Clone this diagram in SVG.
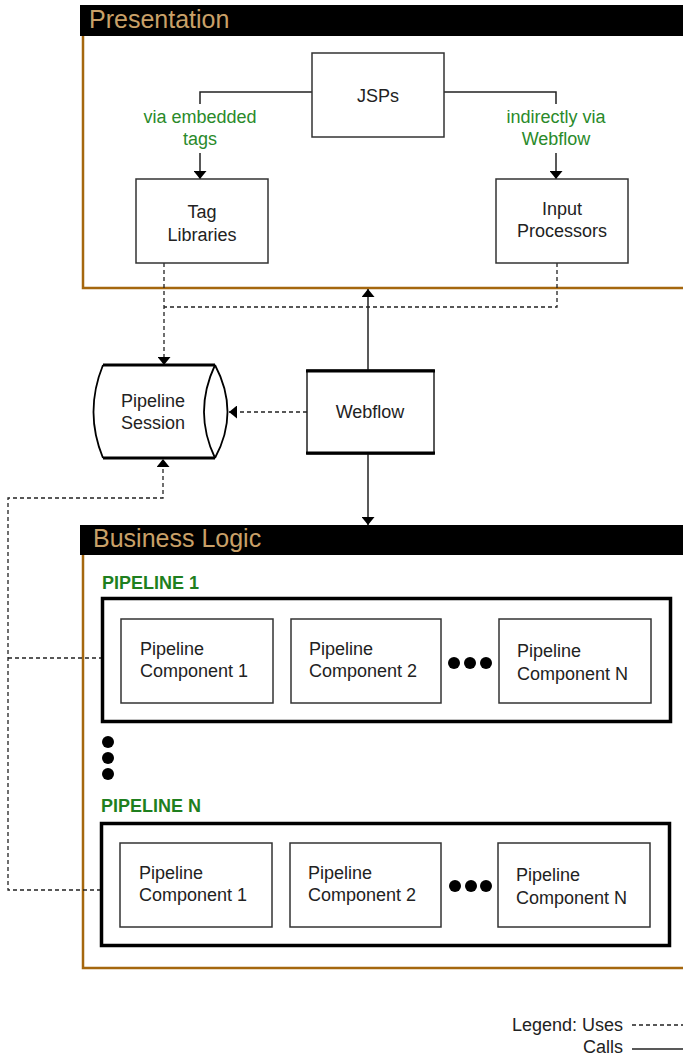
<svg xmlns="http://www.w3.org/2000/svg" width="683" height="1058" viewBox="0 0 683 1058">
<style>
text{font-family:"Liberation Sans",Arial,sans-serif;font-size:18px;fill:#222}
.hdr{font-size:25px;fill:#c9a068}
.lbl{fill:#2a8a2a}
.pl{font-weight:bold;fill:#1f7f1f}
.box{fill:#fff;stroke:#333;stroke-width:1.5}
.obox{fill:#fff;stroke:#000;stroke-width:3.5}
.solid{fill:none;stroke:#222;stroke-width:1.5}
.dash{fill:none;stroke:#222;stroke-width:1.3;stroke-dasharray:4 3}
.brd{fill:none;stroke:#a5670f;stroke-width:2.5}
.c{text-anchor:middle}
.e{text-anchor:end}
</style>
<defs>
<marker id="ah" viewBox="0 0 8 13" refX="8" refY="6.5" markerWidth="8" markerHeight="13" orient="auto" markerUnits="userSpaceOnUse"><path d="M0,0 L8,6.5 L0,13 z" fill="#000"/></marker>
</defs>
<rect width="683" height="1058" fill="#fff"/>

<g id="presentation">
<rect x="80" y="5" width="603" height="31" fill="#000"/>
<path class="brd" d="M83,36 V288 H683"/>
<text class="hdr" x="89" y="28">Presentation</text>
</g>

<g id="business">
<rect x="80" y="525" width="603" height="30" fill="#000"/>
<path class="brd" d="M83,555 V968 H683"/>
<text class="hdr" x="93" y="547">Business Logic</text>
</g>

<g id="connectors">
<path class="solid" d="M312,92 H200 V104"/>
<path class="solid" d="M200,153 V179" marker-end="url(#ah)"/>
<path class="solid" d="M444,92 H556 V104"/>
<path class="solid" d="M556,153 V179" marker-end="url(#ah)"/>
<path class="dash" d="M164,263 V365" marker-end="url(#ah)"/>
<path class="dash" d="M557,263 V307 H164"/>
<path class="solid" d="M368,370 V289" marker-end="url(#ah)"/>
<path class="solid" d="M368,454 V525" marker-end="url(#ah)"/>
<path class="dash" d="M307,412 H229" marker-end="url(#ah)"/>
<path class="dash" d="M101,890 H8 V498 H163 V459" marker-end="url(#ah)"/>
<path class="dash" d="M8,658 H101"/>
<path class="dash" d="M632,1025 H683"/>
<path class="solid" d="M632,1049 H683"/>
</g>

<g id="labels">
<text class="lbl c" x="200" y="123">via embedded</text>
<text class="lbl c" x="200" y="145">tags</text>
<text class="lbl c" x="556" y="123">indirectly via</text>
<text class="lbl c" x="556" y="145">Webflow</text>
</g>

<g id="jsps">
<rect class="box" x="312" y="53" width="132" height="84"/>
<text class="c" x="378" y="102">JSPs</text>
</g>

<g id="tag-libraries">
<rect class="box" x="136" y="179" width="132" height="84"/>
<text class="c" x="202" y="218">Tag</text>
<text class="c" x="202" y="241">Libraries</text>
</g>

<g id="input-processors">
<rect class="box" x="496" y="179" width="132" height="84"/>
<text class="c" x="562" y="215">Input</text>
<text class="c" x="562" y="237">Processors</text>
</g>

<g id="pipeline-session">
<path d="M103,365 Q84,412 103,458" fill="none" stroke="#000" stroke-width="1.8"/>
<path d="M215,365 Q193,412 215,458" fill="none" stroke="#000" stroke-width="1.8"/>
<path d="M215,365 Q240,412 215,458" fill="none" stroke="#000" stroke-width="1.8"/>
<path d="M103,365 H215 M103,458 H215" fill="none" stroke="#000" stroke-width="3"/>
<text class="c" x="153" y="407">Pipeline</text>
<text class="c" x="153" y="429">Session</text>
</g>

<g id="webflow">
<rect x="307" y="370" width="127" height="84" fill="#fff" stroke="#222" stroke-width="1.5"/>
<path d="M306,371 H435 M306,453 H435" stroke="#000" stroke-width="3"/>
<text class="c" x="370" y="418">Webflow</text>
</g>

<g id="pipeline-1">
<text class="pl" x="102" y="589">PIPELINE 1</text>
<rect class="obox" x="102.5" y="598.5" width="568" height="123"/>
<rect class="box" x="121" y="619" width="152" height="84"/>
<text x="140" y="655">Pipeline</text>
<text x="140" y="677">Component 1</text>
<rect class="box" x="291" y="619" width="150" height="84"/>
<text x="309" y="655">Pipeline</text>
<text x="309" y="677">Component 2</text>
<circle cx="454" cy="663" r="6"/><circle cx="470" cy="663" r="6"/><circle cx="486" cy="663" r="6"/>
<rect class="box" x="499" y="619" width="152" height="84"/>
<text x="517" y="657">Pipeline</text>
<text x="517" y="680">Component N</text>
</g>

<g id="vertical-dots">
<circle cx="108" cy="742" r="6"/><circle cx="108" cy="758" r="6"/><circle cx="108" cy="774" r="6"/>
</g>

<g id="pipeline-n">
<text class="pl" x="101" y="812">PIPELINE N</text>
<rect class="obox" x="101.5" y="823.5" width="568" height="122"/>
<rect class="box" x="120" y="843" width="152" height="84"/>
<text x="139" y="879">Pipeline</text>
<text x="139" y="901">Component 1</text>
<rect class="box" x="290" y="843" width="151" height="84"/>
<text x="308" y="879">Pipeline</text>
<text x="308" y="901">Component 2</text>
<circle cx="455" cy="886" r="6"/><circle cx="471" cy="886" r="6"/><circle cx="486" cy="886" r="6"/>
<rect class="box" x="498" y="843" width="152" height="84"/>
<text x="516" y="881">Pipeline</text>
<text x="516" y="904">Component N</text>
</g>

<g id="legend">
<text class="e" x="623" y="1031">Legend: Uses</text>
<text class="e" x="623" y="1053">Calls</text>
</g>
</svg>
